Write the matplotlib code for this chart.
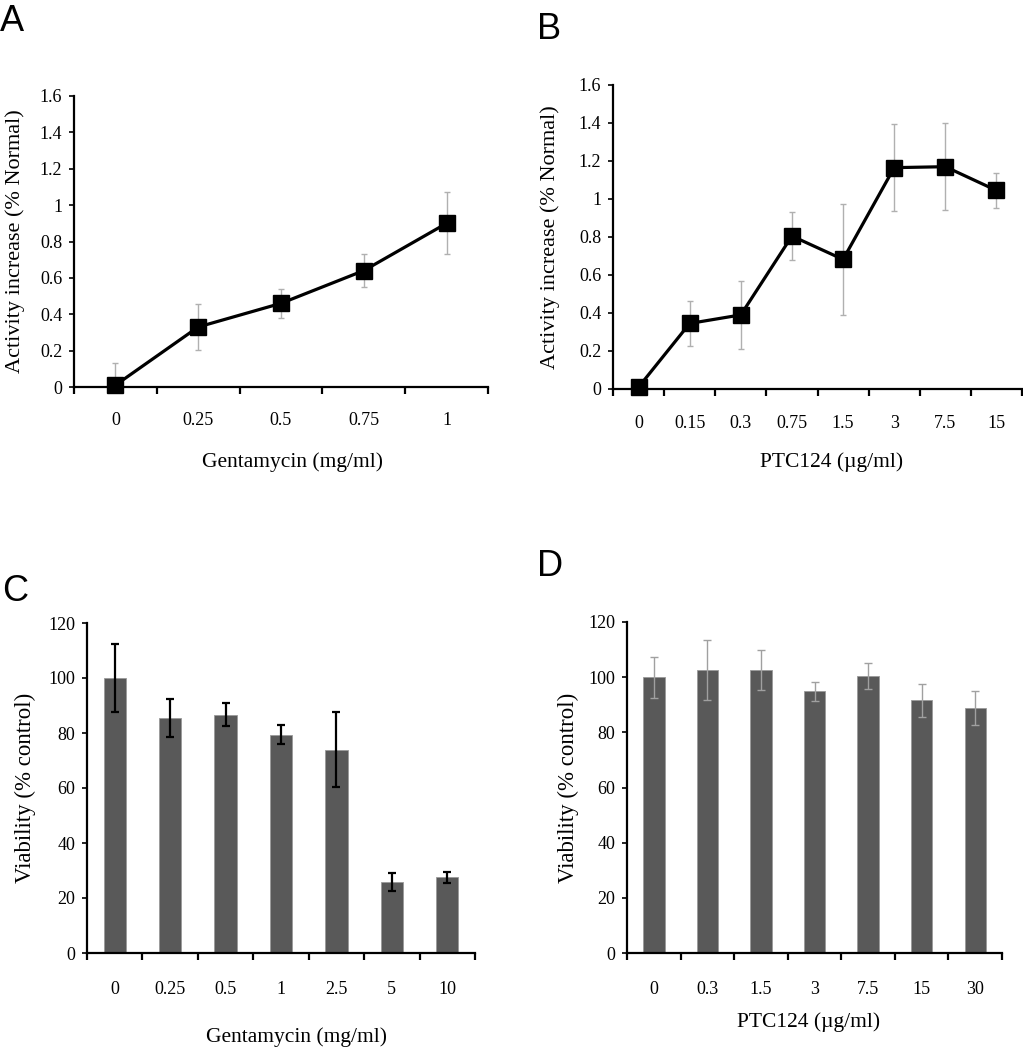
import matplotlib
matplotlib.use("Agg")
import matplotlib.pyplot as plt
import numpy as np

# Panel A data
a_labels = ["0", "0.25", "0.5", "0.75", "1"]
a_values = [0.01, 0.33, 0.46, 0.64, 0.90]
a_errors = [0.12, 0.125, 0.08, 0.09, 0.17]

# Panel B data
b_labels = ["0", "0.15", "0.3", "0.75", "1.5", "3", "7.5", "15"]
b_values = [0.01, 0.345, 0.39, 0.805, 0.682, 1.165, 1.17, 1.045]
b_errors = [0.0, 0.12, 0.18, 0.125, 0.29, 0.23, 0.23, 0.09]

# Panel C data
c_labels = ["0", "0.25", "0.5", "1", "2.5", "5", "10"]
c_values = [100, 85.5, 86.7, 79.4, 74.0, 25.8, 27.5]
c_errors = [12.5, 7.0, 4.3, 3.5, 13.5, 3.2, 2.0]

# Panel D data
d_labels = ["0", "0.3", "1.5", "3", "7.5", "15", "30"]
d_values = [100, 102.6, 102.6, 94.9, 100.5, 91.6, 88.9]
d_errors = [7.4, 10.8, 7.2, 3.5, 4.7, 5.9, 6.2]

SERIF = "Liberation Serif"
SANS = "Liberation Sans"

fig = plt.figure(figsize=(10.23, 10.5), dpi=100)

W, H = 1023, 1050
def rect(l, r, t, b):
    return [l / W, 1 - b / H, (r - l) / W, (b - t) / H]

def style_axes(ax, labels, tickpad):
    n = len(labels)
    x = np.arange(n)
    ax.set_xlim(-0.5, n - 0.5)
    for s in ["top", "right"]:
        ax.spines[s].set_visible(False)
    for s in ["left", "bottom"]:
        ax.spines[s].set_linewidth(1.6)
        ax.spines[s].set_color("black")
    ax.set_xticks(x)
    ax.set_xticklabels(labels, fontfamily=SERIF, fontsize=13)
    ax.set_xticks(np.arange(n + 1) - 0.5, minor=True)
    ax.tick_params(axis="x", which="major", length=0, pad=tickpad)
    ax.tick_params(axis="x", which="minor", length=5, width=1.6, direction="out")
    ax.tick_params(axis="y", which="major", length=3.5, width=1.2, pad=5,
                   labelsize=13)
    return x

def line_panel(ax, labels, values, errors, ylabel, xlabel, ylc, xlc, tickpad):
    x = style_axes(ax, labels, tickpad)
    ax.set_ylim(0, 1.6)
    ax.set_yticks(np.arange(0, 1.61, 0.2))
    ax.set_yticklabels(["0", "0.2", "0.4", "0.6", "0.8", "1", "1.2", "1.4", "1.6"],
                       fontfamily=SERIF, fontsize=13)
    ax.errorbar(x, values, yerr=errors, fmt="none", ecolor="#b0b0b0",
                elinewidth=1.0, capsize=2.5, capthick=1.0, zorder=2)
    ax.plot(x, values, color="black", lw=2.3, marker="s", markersize=11,
            zorder=3, clip_on=False)
    ax.set_ylabel(ylabel, fontfamily=SERIF, fontsize=16, va="center")
    ax.set_xlabel(xlabel, fontfamily=SERIF, fontsize=15.5, va="center")
    ax.yaxis.set_label_coords(*ylc)
    ax.xaxis.set_label_coords(*xlc)

def bar_panel(ax, labels, values, errors, ecolor, elw, ylabel, xlabel, ylc, xlc, tickpad):
    x = style_axes(ax, labels, tickpad)
    ax.set_ylim(0, 120)
    ax.set_yticks(np.arange(0, 121, 20))
    ax.set_yticklabels([str(v) for v in range(0, 121, 20)], fontfamily=SERIF,
                       fontsize=13)
    ax.bar(x, values, width=0.4, color="#595959", edgecolor="#9a9a9a",
           linewidth=0.6, zorder=2)
    ax.errorbar(x, values, yerr=errors, fmt="none", ecolor=ecolor,
                elinewidth=elw, capsize=3, capthick=elw, zorder=3)
    ax.set_ylabel(ylabel, fontfamily=SERIF, fontsize=16.5, va="center")
    ax.set_xlabel(xlabel, fontfamily=SERIF, fontsize=15.5, va="center")
    ax.yaxis.set_label_coords(*ylc)
    ax.xaxis.set_label_coords(*xlc)

axA = fig.add_axes(rect(74, 488, 96, 387))
line_panel(axA, a_labels, a_values, a_errors, "Activity increase (% Normal)",
           "Gentamycin (mg/ml)", (-0.143, 0.5), (0.527, -0.258), 18)

axB = fig.add_axes(rect(613, 1022, 85, 389))
line_panel(axB, b_labels, b_values, b_errors, "Activity increase (% Normal)",
           "PTC124 (\u00b5g/ml)", (-0.154, 0.5), (0.535, -0.24), 19)

axC = fig.add_axes(rect(87, 475, 623, 953))
bar_panel(axC, c_labels, c_values, c_errors, "black", 1.6, "Viability (% control)",
          "Gentamycin (mg/ml)", (-0.16, 0.5), (0.54, -0.255), 20)

axD = fig.add_axes(rect(627, 1002, 622, 953))
bar_panel(axD, d_labels, d_values, d_errors, "#a0a0a0", 1.0, "Viability (% control)",
          "PTC124 (\u00b5g/ml)", (-0.157, 0.5), (0.483, -0.209), 20)

for letter, px, py in [("A", 0, 4), ("B", 537, 12), ("C", 2, 574), ("D", 537, 549)]:
    fig.text(px / W, 1 - py / H, letter, fontfamily=SANS, fontsize=26,
             ha="left", va="top")

fig.savefig("out.png", dpi=100)
